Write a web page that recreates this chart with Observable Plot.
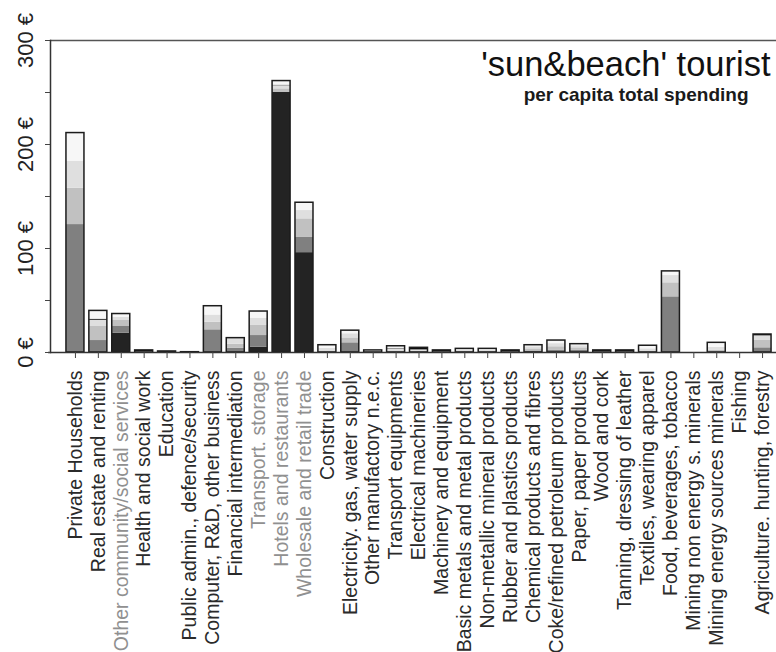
<!DOCTYPE html>
<html>
<head>
<meta charset="utf-8">
<script src="https://cdn.jsdelivr.net/npm/d3@7"></script>
<script src="https://cdn.jsdelivr.net/npm/@observablehq/plot@0.6"></script>
<style>
  html, body { margin: 0; padding: 0; background: #fff; }
  svg { display: block; }
</style>
</head>
<body>
<div id="chart"></div>
<script>
const categories = [
  "Private Households", "Real estate and renting", "Other community/social services",
  "Health and social work", "Education", "Public admin., defence/security",
  "Computer, R&D, other business", "Financial intermediation", "Transport. storage",
  "Hotels and restaurants", "Wholesale and retail trade", "Construction",
  "Electricity. gas, water supply", "Other manufactory n.e.c.", "Transport equipments",
  "Electrical machineries", "Machinery and equipment", "Basic metals and metal products",
  "Non-metallic mineral products", "Rubber and plastics products", "Chemical products and fibres",
  "Coke/refined petroleum products", "Paper, paper products", "Wood and cork",
  "Tanning, dressing of leather", "Textiles, wearing apparel", "Food, beverages, tobacco",
  "Mining non energy s. minerals", "Mining energy sources minerals", "Fishing",
  "Agriculture. hunting, forestry"
];

// stacked components (bottom to top), € per capita
const darkPart    = [0, 0, 18.6, 0, 0, 0, 0, 0, 5, 250, 96, 0, 0, 0, 0, 0, 0, 0, 0, 0, 0, 0, 0, 0, 0, 0, 0, 0, 0, 0, 0];
const midPart     = [123, 11.5, 6.4, 0, 0, 0, 21.8, 4, 11.3, 0, 15, 0, 9.3, 0, 0, 0, 0, 0, 0, 0, 1.5, 2, 2, 0, 0, 0, 53.5, 0, 0, 0, 4.5];
const lightPart   = [35, 13.5, 5.8, 0, 0, 0, 7.2, 4, 9.7, 3.5, 17.5, 1.5, 4.7, 0.5, 1.5, 1, 0.5, 1, 1, 0.5, 2, 3.5, 2.5, 0.5, 0.5, 1.5, 13.5, 0, 2, 0, 7.5];
const lighterPart = [26, 6, 3.2, 0.8, 0.5, 0, 7, 5.8, 7, 3, 8, 2.5, 4, 0.5, 2, 1.5, 0.5, 1.5, 1, 0.5, 2, 3, 2, 0.5, 0.5, 2, 7, 0, 3, 0, 4];
const blackPart   = [0, 1, 0, 1.2, 0, 0, 0, 0, 0, 0.5, 0, 0, 0, 0, 0.5, 2, 1, 0, 0, 1, 0, 0, 0, 1, 1, 0, 0, 0, 0, 0, 1.3];
const palePart    = [27, 8, 3, 0, 0.5, 0.3, 8.5, 0, 6.4, 4, 7.5, 3, 3, 1, 2, 0, 0, 1, 1.5, 0, 1.5, 3, 1.5, 0, 0, 3, 4, 0, 4.3, 0, 0];

// categories whose labels are printed in grey
const greyLabelled = ["Other community/social services", "Transport. storage", "Hotels and restaurants", "Wholesale and retail trade"];

const yTicks = [0, 50, 100, 150, 200, 250, 300];
const yLabelTicks = [0, 100, 200, 300];

const titleText = "'sun&beach' tourist";
const subtitleText = "per capita total spending";

const seriesNames = ["dark", "mid", "light", "lighter", "black", "pale"];
const seriesArrays = [darkPart, midPart, lightPart, lighterPart, blackPart, palePart];
const seriesColors = ["#232323", "#808080", "#c1c1c1", "#dfdfdf", "#0d0d0d", "#f7f7f7"];

const rows = seriesNames.flatMap((s, si) =>
  categories.map((c, i) => ({category: c, series: s, value: seriesArrays[si][i]}))
);
const totals = categories.map((c, i) => ({
  category: c,
  total: d3.sum(seriesArrays, arr => arr[i])
})).filter(d => d.total > 0);

const font = "'Liberation Sans', Arial, Helvetica, sans-serif";

const chart = Plot.plot({
  width: 776,
  height: 652,
  marginLeft: 50,
  marginRight: 2.5,
  marginTop: 40,
  marginBottom: 300,
  style: {background: "#fff", fontFamily: font, color: "#333"},
  x: {domain: categories, paddingInner: 0.214, paddingOuter: 0.107, insetLeft: 13.5, round: false, axis: null},
  y: {domain: [0, 300], axis: null},
  color: {domain: seriesNames, range: seriesColors},
  marks: [
    Plot.barY(rows, {x: "category", y: "value", fill: "series"}),
    Plot.barY(totals, {x: "category", y: "total", fill: "none", stroke: "#1c1c1c", strokeWidth: 1.5}),
    Plot.ruleY([0], {stroke: "#333", strokeWidth: 1.5, insetLeft: -2, insetRight: -3}),
    Plot.ruleY([300], {stroke: "#555", strokeWidth: 1.5, insetRight: -3}),
    Plot.frame({anchor: "left", stroke: "#333", strokeWidth: 1.5}),
    Plot.axisY({ticks: yTicks, tickSize: 5, tickFormat: () => "", stroke: "#444", label: null}),
    Plot.text(yLabelTicks, {
      y: d => d, text: d => `${d} €`, frameAnchor: "left", rotate: -90,
      textAnchor: "middle", lineAnchor: "bottom", dx: -18,
      fontSize: 22, fill: "#222"
    }),
    Plot.axisX({tickSize: 6, tickFormat: () => "", stroke: "#444", label: null}),
    Plot.text(categories, {
      x: d => d, text: d => d, frameAnchor: "bottom", rotate: -90,
      textAnchor: "end", lineAnchor: "middle", dy: 18, fontSize: 19.5,
      fill: d => greyLabelled.includes(d) ? "#909090" : "#2a2a2a"
    }),
    Plot.text([titleText], {
      text: d => d, frameAnchor: "top-right", textAnchor: "end", lineAnchor: "bottom",
      dx: -3.5, dy: 35.5, fontSize: 34.5, fill: "#111"
    }),
    Plot.text([subtitleText], {
      text: d => d, frameAnchor: "top-right", textAnchor: "end", lineAnchor: "bottom",
      dx: -25.5, dy: 60.5, fontSize: 19, fontWeight: "bold", fill: "#1a1a1a"
    })
  ]
});

document.getElementById("chart").appendChild(chart);
</script>
</body>
</html>
